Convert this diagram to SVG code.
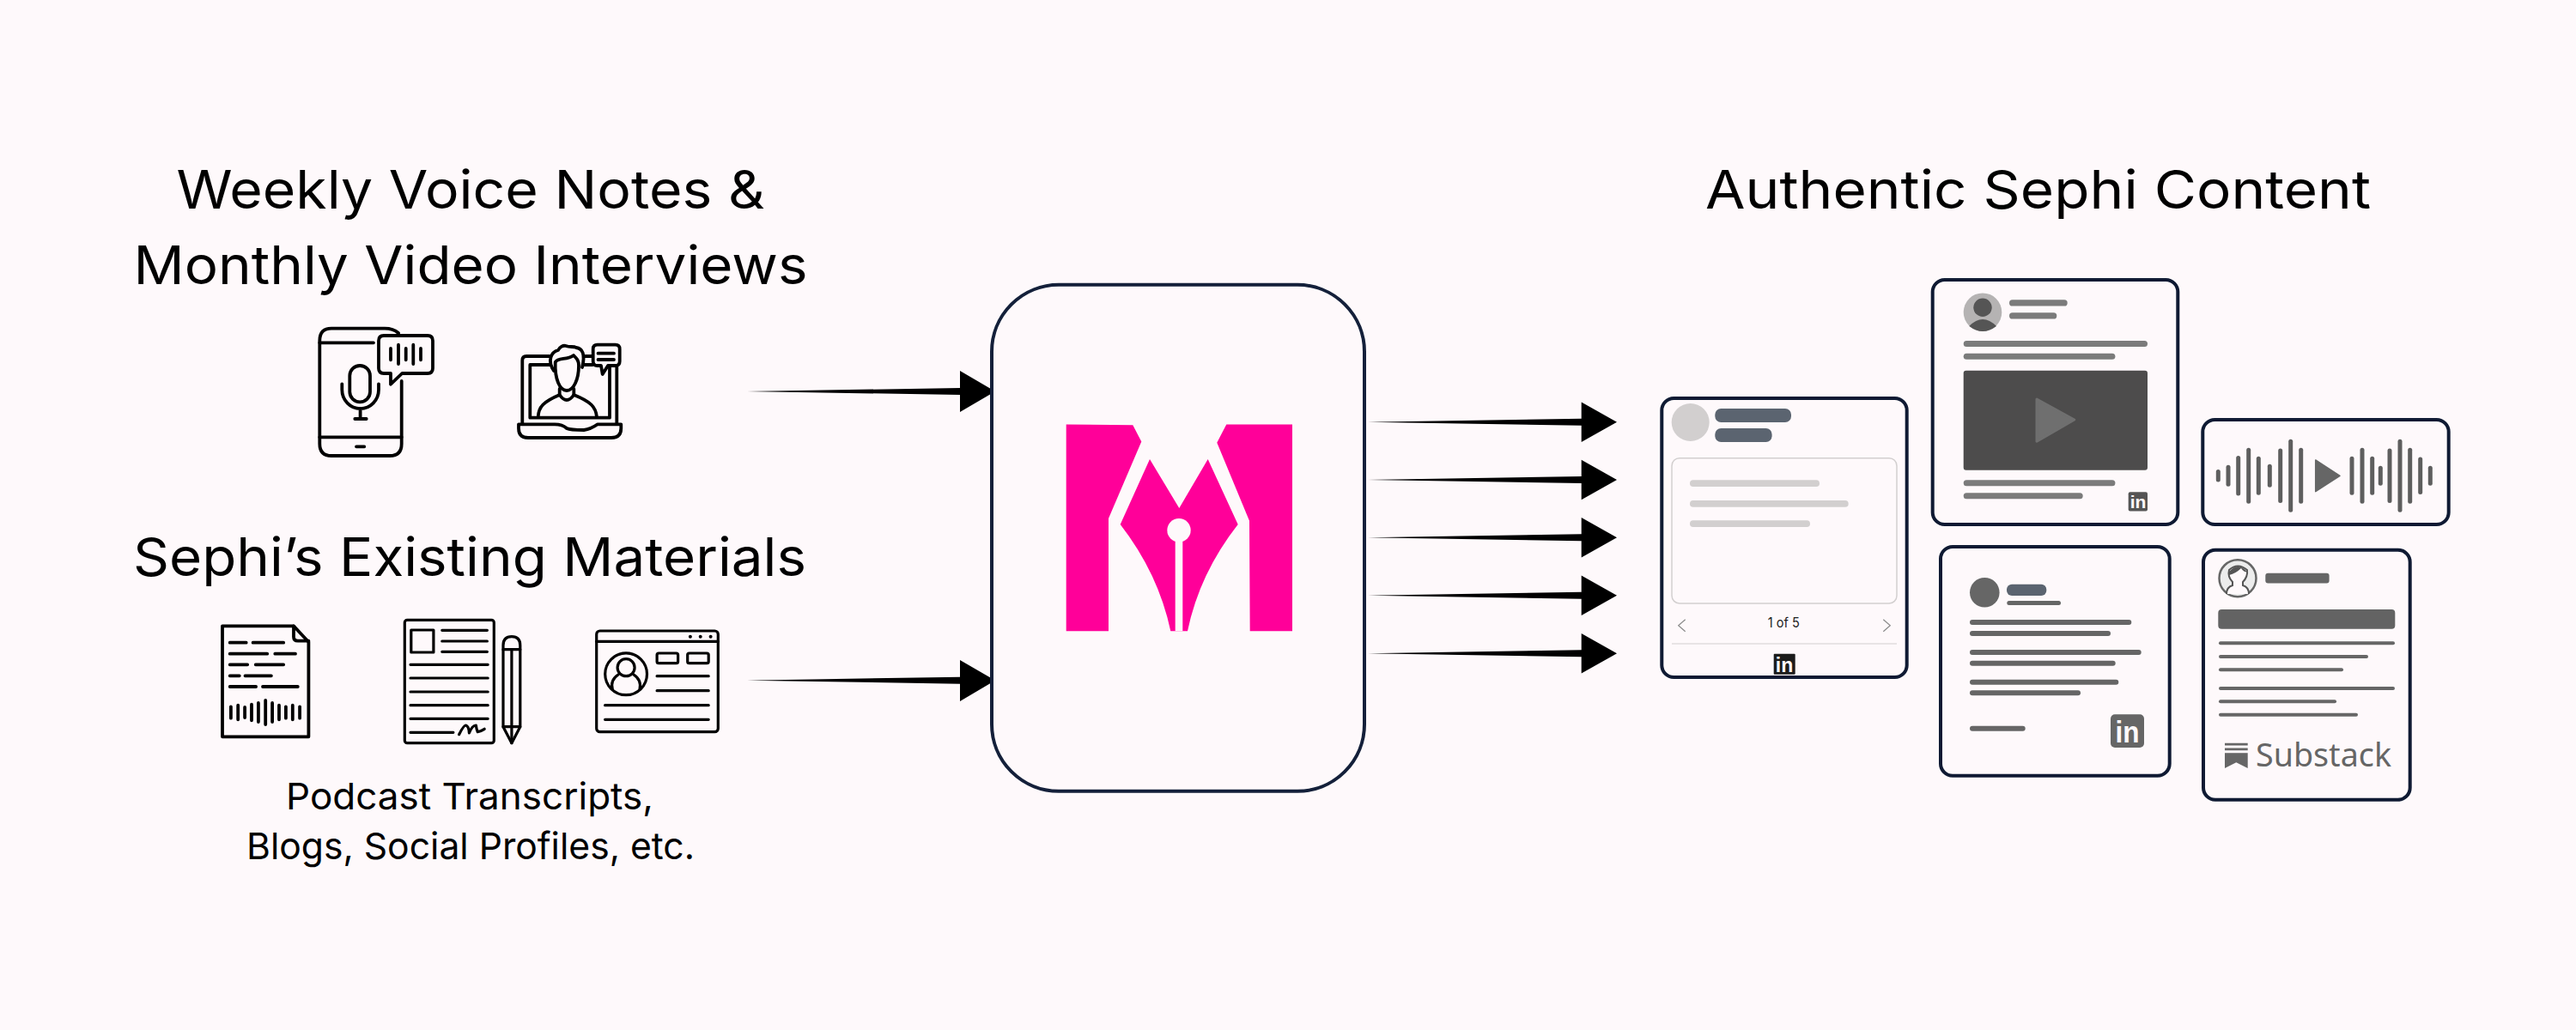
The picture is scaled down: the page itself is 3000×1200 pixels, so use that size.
<svg xmlns="http://www.w3.org/2000/svg" width="3000" height="1200" viewBox="0 0 3000 1200">
<style>
text{font-family:"Inter","Noto Sans","Liberation Sans",sans-serif;fill:#000}
.h{font-size:62px;text-anchor:middle}
.s{font-size:43px;text-anchor:middle}
.ic{fill:none;stroke:#000;stroke-width:3.8;stroke-linecap:round;stroke-linejoin:round}
.ict{stroke-width:3.2}
.card{fill:#fef9fb;stroke:#0f1a33;stroke-width:4}
.arrow{fill:#000;stroke:none}
.lg{fill:#d2cfcf}
.sl{fill:#5b6470}
.g7{fill:#7b7b7b}
.g6{fill:#666}
.in{font-family:"Liberation Sans",Arial,sans-serif;font-weight:700;fill:#fef9fb;text-anchor:middle}
.wave line{stroke:#5e5e5e;stroke-width:5;stroke-linecap:round}
</style>
<rect id="background" width="3000" height="1200" fill="#fef9fb"/>

<g id="title-inputs">
<text class="h" x="548" y="243" textLength="685" lengthAdjust="spacingAndGlyphs">Weekly Voice Notes &amp;</text>
<text class="h" x="548" y="331" textLength="785" lengthAdjust="spacingAndGlyphs">Monthly Video Interviews</text>
</g>

<g id="icon-phone" class="ic">
<path d="M464,388Q458,382.7 448,382.7H386Q372.3,382.7 372.3,397V517Q372.3,531 386,531H454Q467.7,531 467.7,517V444"/>
<path d="M372.3,399.3H435M372.3,509.3H467.7M415,520.3H424.3"/>
<path d="M447,391H498Q504,391 504,397V429Q504,435 498,435H468.3L455,447.7V435H447Q441,435 441,429V397Q441,391 447,391Z"/>
<path d="M455,406V419.3M464,401.7V424M472.7,406V419.3M481.3,401.7V424M490,406V419.3"/>
<rect x="407.3" y="426" width="23.7" height="42.3" rx="11.8"/>
<path d="M398.3,447.3V454A21.3,22 0 0 0 441,454V447.3M419.6,476V488M413.3,488H426.7"/>
</g>

<g id="icon-laptop" class="ic">
<path d="M642,415H613Q608.3,415 608.3,420V493M680,415H690M718.3,427V493"/>
<path d="M644,425H617.3V486.7H710V425H700M676,425H690"/>
<path d="M604,494.3H646Q655,494.3 660,499Q664,501 680,501Q688,500 696,494.3H723.3V499Q723.3,510 712,510H615Q604,510 604,499Z"/>
<path d="M645,432C637,420 642,410 650,408C652,404 656,402 659,403C664,405 668,403 671,405C678,406 682,412 678,428" fill="#fef9fb"/>
<path d="M646.7,422C650,416 660,420 668,414C672,418 674,420 674,426C674,442 668,455 660,455C652,455 646,442 646.7,422Z" fill="#fef9fb"/>
<path d="M651.7,453V460Q660,472 668.3,460V453"/>
<path d="M626.7,486C627,474 633,468 651.7,460M695,486C694,474 688,468 668.3,460"/>
<path d="M695.7,401.7H716.7Q721.7,401.7 721.7,406.7V421Q721.7,426 716.7,426H708L701.7,436L700,426H695.7Q690.7,426 690.7,421V406.7Q690.7,401.7 695.7,401.7Z" fill="#fef9fb"/>
<path d="M696.5,411.7H715M696.5,419H715"/>
</g>

<text id="title-existing" class="h" x="547" y="671" textLength="784" lengthAdjust="spacingAndGlyphs">Sephi’s Existing Materials</text>

<g id="icon-document" class="ic">
<path d="M259,729.3H342L359.4,748V858.3H259Z"/>
<path d="M342,729.3V742Q342,746.7 347,746.7H359.4"/>
<path d="M267.7,748.7H286.7M294.6,748.7H330.2M267.7,761.7H311.2M320.3,761.7H344M267.7,774.3H288.2M297.7,774.3H330.2M267.7,787.3H278.8M285.5,787.3H315.9M267.7,800H298.1M306,800H346.8"/>
<path d="M268.9,823.3V836.7M277.2,821.7V838.3M285.1,824V836M293,820.7V839.3M300.9,819V841M309.2,816V844M317.1,819V841M325,821.7V838.3M332.9,823.3V836.7M340.8,821.7V838.3M349.1,823.3V836.7"/>
</g>

<g id="icon-form" class="ic ict">
<rect x="471.3" y="722.3" width="104" height="143.4" rx="3"/>
<rect x="478.8" y="734" width="26.1" height="26"/>
<path d="M514.8,734.3H567.4M514.8,747H567.4M514.8,759.3H567.4M478,774.3H568.2M478,790H568.2M478,806H568.2M478,821.7H568.2M478,837.3H568.2M478,853.3H527.9"/>
<path d="M534.6,855.7Q540,845 542.5,845Q546,846 546.4,854Q550,845 554.3,845Q555,850 556.3,852.7Q560,852 564.2,849.3"/>
<path d="M586,846.7V752Q586,741.7 595.9,741.7Q605.8,741.7 605.8,752V846.7L595.9,865.7Z"/>
<path d="M586,756.7H605.8M586,846.7H605.8M595.9,756.7V865.7"/>
</g>

<g id="icon-profile" class="ic ict">
<rect x="694.7" y="735" width="141.6" height="117.7" rx="4"/>
<path d="M694.7,747.3H836.3"/>
<circle cx="729.1" cy="785.3" r="24.4"/>
<circle cx="729.1" cy="777.7" r="10"/>
<path d="M713.3,803.3C711,795 714,790 720,786M745,803.3C747,795 744,790 738,786"/>
<rect x="765.1" y="761" width="24.5" height="11.7" rx="2"/>
<rect x="800.7" y="761" width="24.5" height="11.7" rx="2"/>
<path d="M765.1,787.7H825.2M765.1,804.7H825.2M704.6,821.7H825.2M704.6,838.3H825.2"/>
<g fill="#000" stroke="none"><circle cx="803.9" cy="741.7" r="2"/><circle cx="815.7" cy="741.7" r="2"/><circle cx="827.6" cy="741.7" r="2"/></g>
</g>

<g id="caption-existing">
<text class="s" x="547" y="943" textLength="428" lengthAdjust="spacingAndGlyphs">Podcast Transcripts,</text>
<text class="s" x="548" y="1001" textLength="522" lengthAdjust="spacingAndGlyphs">Blogs, Social Profiles, etc.</text>
</g>

<g id="connectors">
<polygon class="arrow" points="870,456 1118,452 1118,432 1159,456 1118,480 1118,460"/>
<polygon class="arrow" points="870,792.7 1118,788.7 1118,769 1159,792.7 1118,817 1118,796.7"/>
<polygon class="arrow" points="1593,491.7 1841.7,487.7 1841.7,468.4 1883,491.7 1841.7,515 1841.7,495.7"/>
<polygon class="arrow" points="1593,559 1841.7,555 1841.7,535.7 1883,559 1841.7,582.3 1841.7,563"/>
<polygon class="arrow" points="1593,626.3 1841.7,622.3 1841.7,603 1883,626.3 1841.7,649.6 1841.7,630.3"/>
<polygon class="arrow" points="1593,693.7 1841.7,689.7 1841.7,670.4 1883,693.7 1841.7,717 1841.7,697.7"/>
<polygon class="arrow" points="1593,761.3 1841.7,757.3 1841.7,738 1883,761.3 1841.7,784.6 1841.7,765.3"/>
</g>

<g id="node-engine">
<rect x="1155" y="331.8" width="434" height="590" rx="78" fill="#fef9fb" stroke="#14203a" stroke-width="4"/>
<path fill="#ff0099" d="M1241.7,494.4L1319.3,495.2L1329.3,514.5L1291,603.9V735.2H1241.7Z"/>
<path fill="#ff0099" d="M1428.3,494.4H1505V735.2H1455.7L1455,606.7L1417.3,515.7Z"/>
<path fill="#ff0099" d="M1339,535.1L1373.3,592L1406.7,535.1L1441.7,611Q1397,668 1383,735.2H1363.3Q1349,668 1304.7,611Z"/>
<rect x="1368.7" y="625" width="8.6" height="110.2" fill="#fef9fb"/>
<ellipse cx="1373" cy="617.7" rx="13.7" ry="13.8" fill="#fef9fb"/>
</g>

<text id="title-outputs" class="h" x="2373.5" y="243" textLength="775" lengthAdjust="spacingAndGlyphs">Authentic Sephi Content</text>

<g id="card-carousel">
<rect class="card" x="1935.3" y="464" width="285.4" height="325" rx="14"/>
<circle class="lg" cx="1968.7" cy="492" r="22"/>
<rect class="sl" x="1997.3" y="476" width="88.7" height="16" rx="7"/>
<rect class="sl" x="1997.3" y="499" width="66.3" height="16" rx="7"/>
<rect x="1947" y="533.7" width="262" height="169.3" rx="9" fill="none" stroke="#d2cfcf" stroke-width="1.5"/>
<rect class="lg" x="1968" y="559.3" width="151" height="7.7" rx="3.8"/>
<rect class="lg" x="1968" y="583" width="184.7" height="7.7" rx="3.8"/>
<rect class="lg" x="1968" y="606.3" width="140" height="7.7" rx="3.8"/>
<text x="2077.3" y="731" font-size="16" text-anchor="middle" textLength="37" lengthAdjust="spacingAndGlyphs" style="fill:#222">1 of 5</text>
<path d="M1962.7,721.7L1954.7,728.7L1962.7,735.7M2193.3,721.7L2201.3,728.7L2193.3,735.7" fill="none" stroke="#8a8a8a" stroke-width="1.2"/>
<path d="M1947,750H2209" stroke="#d2cfcf" stroke-width="1"/>
<rect x="2065.7" y="761.7" width="25" height="24" rx="1" fill="#1c1c1c"/>
<text class="in" x="2078" y="783" font-size="23">in</text>
</g>

<g id="card-video">
<rect class="card" x="2250.7" y="326" width="285.6" height="285" rx="14"/>
<circle cx="2309" cy="363.7" r="22.3" fill="#b5b3b3"/>
<circle cx="2309" cy="358.3" r="10.7" fill="#555"/>
<path d="M2293.3,380Q2309,364 2325,380Q2309,392 2293.3,380Z" fill="#555"/>
<rect class="g7" x="2340" y="349.3" width="67.7" height="7.3" rx="3.6"/>
<rect class="g7" x="2340" y="364.3" width="55.3" height="7.3" rx="3.6"/>
<rect class="g7" x="2286.7" y="397" width="214.3" height="7" rx="3.5"/>
<rect class="g7" x="2286.7" y="411.7" width="176.7" height="7" rx="3.5"/>
<rect x="2286.7" y="431.7" width="214.3" height="116" rx="3" fill="#4d4c4c"/>
<path d="M2372,465L2415.7,489L2372,514.3Z" fill="#6f6f6f" stroke="#6f6f6f" stroke-width="3" stroke-linejoin="round"/>
<rect class="g7" x="2286.7" y="559.3" width="176.7" height="7" rx="3.5"/>
<rect class="g7" x="2286.7" y="574.3" width="139" height="7" rx="3.5"/>
<rect x="2478.7" y="573.3" width="22.3" height="22.3" rx="2" fill="#555"/>
<text class="in" x="2490" y="592" font-size="21">in</text>
</g>

<g id="card-post">
<rect class="card" x="2260" y="637" width="266.7" height="266.7" rx="14"/>
<circle class="g6" cx="2311.3" cy="690.3" r="17.3"/>
<rect class="sl" x="2337" y="680.7" width="46.3" height="13.3" rx="6"/>
<rect class="g6" x="2337.3" y="700" width="62.7" height="5" rx="2.5"/>
<rect class="g6" x="2294" y="722" width="188.3" height="6" rx="3"/>
<rect class="g6" x="2294" y="735" width="164" height="6" rx="3"/>
<rect class="g6" x="2294" y="757" width="199.7" height="6" rx="3"/>
<rect class="g6" x="2294" y="769.7" width="169.7" height="6" rx="3"/>
<rect class="g6" x="2294" y="791.7" width="173.3" height="6" rx="3"/>
<rect class="g6" x="2294" y="804.3" width="129" height="6" rx="3"/>
<rect class="g6" x="2294" y="845.7" width="64.7" height="6" rx="3"/>
<rect class="g6" x="2458" y="832.3" width="39" height="38.7" rx="5"/>
<text class="in" x="2477.5" y="865" font-size="35" textLength="28" lengthAdjust="spacingAndGlyphs">in</text>
</g>

<g id="card-audio">
<rect class="card" x="2565.3" y="489" width="286.4" height="122" rx="14"/>
<g class="wave">
<line x1="2583.3" x2="2583.3" y1="549.6" y2="559"/>
<line x1="2595" x2="2595" y1="544.3" y2="564.3"/>
<line x1="2606.7" x2="2606.7" y1="533.6" y2="575"/>
<line x1="2618.7" x2="2618.7" y1="524.3" y2="584.3"/>
<line x1="2630.3" x2="2630.3" y1="534.3" y2="574.3"/>
<line x1="2643.3" x2="2643.3" y1="543.3" y2="565.3"/>
<line x1="2655.7" x2="2655.7" y1="525" y2="583.6"/>
<line x1="2667.7" x2="2667.7" y1="514.3" y2="594.3"/>
<line x1="2679.7" x2="2679.7" y1="524.3" y2="584.3"/>
<line x1="2739" x2="2739" y1="534.3" y2="574.3"/>
<line x1="2751" x2="2751" y1="524.3" y2="584.3"/>
<line x1="2762.7" x2="2762.7" y1="534.3" y2="574.3"/>
<line x1="2772.3" x2="2772.3" y1="545.3" y2="563.3"/>
<line x1="2783" x2="2783" y1="525" y2="583.6"/>
<line x1="2795" x2="2795" y1="514.3" y2="594.3"/>
<line x1="2806.7" x2="2806.7" y1="524.3" y2="584.3"/>
<line x1="2818.7" x2="2818.7" y1="535" y2="573.6"/>
<line x1="2830.3" x2="2830.3" y1="545.3" y2="563.3"/>
</g>
<path d="M2696.7,536L2725,554.3L2696.7,572.7Z" fill="#666" stroke="#666" stroke-width="1.5" stroke-linejoin="round"/>
</g>

<g id="card-substack">
<rect class="card" x="2566" y="640.7" width="240.7" height="291" rx="14"/>
<circle cx="2606" cy="673.7" r="21.5" fill="#ececec" stroke="#666" stroke-width="2.5"/>
<path d="M2593,692Q2593,684 2600,682V678Q2594,672 2596,664Q2606,655 2617,664Q2618,672 2612,678V682Q2619,684 2619,692" fill="#fef9fb" stroke="#555" stroke-width="2"/>
<path d="M2596,666Q2606,654 2617,666Q2613,667 2610,662Q2604,668 2596,670Z" fill="#555"/>
<rect class="g6" x="2638.3" y="667.7" width="74.3" height="11.7" rx="3"/>
<rect x="2583.3" y="710" width="206" height="22.7" rx="4" fill="#636363"/>
<rect class="g6" x="2584" y="747.3" width="205" height="4" rx="2"/>
<rect class="g6" x="2584" y="763" width="174" height="4" rx="2"/>
<rect class="g6" x="2584" y="778.3" width="145" height="4" rx="2"/>
<rect class="g6" x="2584" y="800" width="205" height="4" rx="2"/>
<rect class="g6" x="2584" y="815.3" width="137" height="4" rx="2"/>
<rect class="g6" x="2584" y="830.7" width="162" height="4" rx="2"/>
<path class="g6" d="M2591,865.7H2617.7V868.5H2591ZM2591,871.5H2617.7V874.3H2591ZM2591,877.3H2617.7V895L2604.3,888.3L2591,895Z"/>
<text x="2706" y="893.3" font-size="39" text-anchor="middle" textLength="158" lengthAdjust="spacingAndGlyphs" style="font-family:'Noto Sans',sans-serif;fill:#666">Substack</text>
</g>
</svg>
